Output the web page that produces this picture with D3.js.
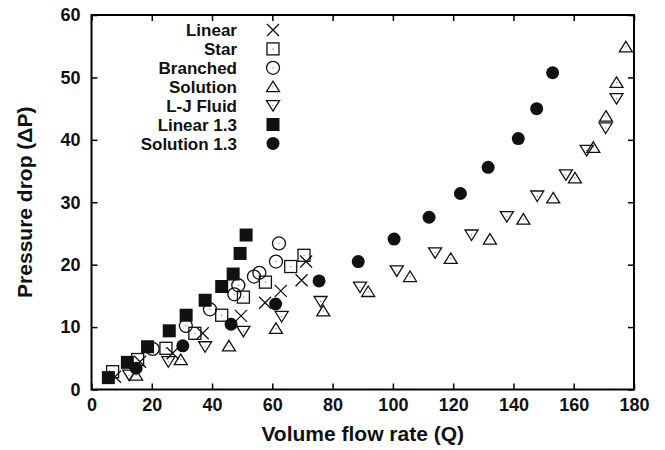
<!DOCTYPE html>
<html>
<head>
<meta charset="utf-8">
<script src="https://cdn.jsdelivr.net/npm/d3@7"></script>
<style>
body { margin: 0; background: #fff; }
text { font-family: "Liberation Sans", Arial, sans-serif; }
</style>
</head>
<body>
<div id="chart"></div>
<script>
// data: Q = volume flow rate, P = pressure drop
let linearQ = [7.8, 16.1, 26.9, 36.9, 49.6, 57.6, 62.8, 69.7, 71.2];
let linearP = [2.05, 4.45, 5.8, 9.0, 11.8, 13.9, 15.8, 17.5, 20.5];

let starQ = [7.0, 15.3, 24.7, 34.3, 43.2, 50.4, 57.7, 66.1, 70.5];
let starP = [2.85, 4.8, 6.6, 9.0, 11.9, 14.8, 17.2, 19.7, 21.5];

let branchedQ = [20.3, 31.3, 39.3, 47.4, 48.7, 53.9, 55.7, 61.2, 62.2];
let branchedP = [6.5, 10.2, 12.85, 15.25, 16.7, 18.1, 18.7, 20.5, 23.4];

let solutionQ = [14.8, 29.6, 45.6, 61.2, 76.9, 91.8, 105.7, 119.2, 132.2, 143.3, 153.2, 160.4, 166.5, 170.7, 174.2, 177.3];
let solutionP = [2.3, 4.8, 7.0, 9.8, 12.6, 15.7, 18.1, 21.0, 24.1, 27.3, 30.7, 33.9, 38.8, 43.8, 49.2, 54.9];

let ljQ = [12.5, 25.5, 37.7, 50.4, 63.1, 76.0, 89.1, 101.3, 114.0, 126.1, 137.8, 147.9, 157.4, 164.3, 170.6, 174.2];
let ljP = [2.3, 4.45, 6.85, 9.3, 11.7, 14.1, 16.4, 19.0, 21.9, 24.75, 27.7, 31.0, 34.4, 38.3, 41.9, 46.6];

let linear13Q = [5.6, 11.9, 18.6, 25.8, 31.4, 37.7, 43.2, 47.0, 49.3, 51.3];
let linear13P = [1.9, 4.35, 6.85, 9.4, 11.9, 14.3, 16.5, 18.5, 21.8, 24.75];

let solution13Q = [14.8, 30.3, 46.3, 61.1, 75.5, 88.5, 100.4, 112.0, 122.4, 131.6, 141.6, 147.7, 153.0];
let solution13P = [3.4, 7.0, 10.45, 13.7, 17.4, 20.5, 24.1, 27.6, 31.4, 35.6, 40.2, 45.0, 50.75];

let seriesNames = ["Linear", "Star", "Branched", "Solution", "L-J Fluid", "Linear 1.3", "Solution 1.3"];
let seriesShapes = ["cross", "square", "circle", "triUp", "triDown", "fillSquare", "fillCircle"];

let xTicks = [0, 20, 40, 60, 80, 100, 120, 140, 160, 180];
let yTicks = [0, 10, 20, 30, 40, 50, 60];

let series = [
    [linearQ, linearP], [starQ, starP], [branchedQ, branchedP], [solutionQ, solutionP],
    [ljQ, ljP], [linear13Q, linear13P], [solution13Q, solution13P]
];

let margin = { top: 15, right: 31, bottom: 60.5, left: 91.5 };
let width = 665 - margin.left - margin.right;
let height = 450 - margin.top - margin.bottom;

let svg = d3.select("#chart").append("svg")
    .attr("width", 665)
    .attr("height", 450);

let g = svg.append("g")
    .attr("transform", "translate(" + margin.left + "," + margin.top + ")");

let xScale = d3.scaleLinear().domain([0, 180]).range([0, width]);
let yScale = d3.scaleLinear().domain([0, 60]).range([height, 0]);

// axes, ticks pointing inward, mirrored on top and right
let xAxis = g.append("g").attr("transform", "translate(0," + height + ")")
    .call(d3.axisBottom(xScale).tickValues(xTicks).tickSizeInner(-6).tickSizeOuter(0).tickPadding(9));
let yAxis = g.append("g")
    .call(d3.axisLeft(yScale).tickValues(yTicks).tickSizeInner(-6).tickSizeOuter(0).tickPadding(11));
let xTop = g.append("g")
    .call(d3.axisTop(xScale).tickValues(xTicks).tickSizeInner(-6).tickSizeOuter(0).tickFormat(""));
let yRight = g.append("g").attr("transform", "translate(" + width + ",0)")
    .call(d3.axisRight(yScale).tickValues(yTicks).tickSizeInner(-6).tickSizeOuter(0).tickFormat(""));

[xAxis, yAxis, xTop, yRight].forEach(function (a) {
    a.select(".domain").remove();
    a.selectAll(".tick line").attr("stroke", "#000").attr("stroke-width", 1.5);
    a.selectAll(".tick text")
        .attr("fill", "#111")
        .style("font-size", "18px")
        .style("font-weight", "bold");
});

g.append("rect")
    .attr("width", width)
    .attr("height", height)
    .attr("fill", "none")
    .attr("stroke", "#000")
    .attr("stroke-width", 2);

// axis titles
svg.append("text")
    .attr("x", margin.left + width / 2)
    .attr("y", 441)
    .attr("text-anchor", "middle")
    .style("font-size", "21px")
    .style("font-weight", "bold")
    .attr("fill", "#111")
    .text("Volume flow rate (Q)");

svg.append("text")
    .attr("transform", "translate(32," + (margin.top + height / 2) + ")rotate(-90)")
    .attr("text-anchor", "middle")
    .style("font-size", "21px")
    .style("font-weight", "bold")
    .attr("fill", "#111")
    .text("Pressure drop (\u0394P)");

// draw one marker at (0,0) inside the given group
function drawMarker(sel, shape) {
    let s = 6;
    if (shape === "cross") {
        sel.append("path").attr("d", "M" + -s + "," + -s + "L" + s + "," + s + "M" + -s + "," + s + "L" + s + "," + -s)
            .attr("stroke", "#111").attr("stroke-width", 1.3).attr("fill", "none");
        return;
    }
    if (shape === "square") {
        sel.append("rect").attr("x", -s).attr("y", -s).attr("width", 2 * s).attr("height", 2 * s)
            .attr("fill", "none").attr("stroke", "#111").attr("stroke-width", 1.3);
    } else if (shape === "circle") {
        sel.append("circle").attr("r", 6.5)
            .attr("fill", "none").attr("stroke", "#111").attr("stroke-width", 1.3);
    } else if (shape === "triUp") {
        sel.append("path").attr("d", "M0,-5.5L6.5,5L-6.5,5Z")
            .attr("fill", "none").attr("stroke", "#111").attr("stroke-width", 1.3);
    } else if (shape === "triDown") {
        sel.append("path").attr("d", "M0,5.5L6.5,-5L-6.5,-5Z")
            .attr("fill", "none").attr("stroke", "#111").attr("stroke-width", 1.3);
    } else if (shape === "fillSquare") {
        sel.append("rect").attr("x", -6.5).attr("y", -6.5).attr("width", 13).attr("height", 13)
            .attr("fill", "#111");
        return;
    } else if (shape === "fillCircle") {
        sel.append("circle").attr("r", 6.5).attr("fill", "#111");
        return;
    }
    // gnuplot leaves a dot in the middle of open points
    sel.append("rect").attr("x", -0.5).attr("y", -0.5).attr("width", 1).attr("height", 1).attr("fill", "#555");
}

series.forEach(function (sr, i) {
    let pts = sr[0].map(function (q, j) { return [q, sr[1][j]]; });
    g.append("g").selectAll("g").data(pts).enter().append("g")
        .attr("transform", function (d) { return "translate(" + xScale(d[0]) + "," + yScale(d[1]) + ")"; })
        .each(function () { drawMarker(d3.select(this), seriesShapes[i]); });
});

// legend
let legend = svg.append("g").attr("transform", "translate(0,30)");
seriesNames.forEach(function (name, i) {
    let row = legend.append("g").attr("transform", "translate(0," + (i * 18.9) + ")");
    row.append("text")
        .attr("x", 237)
        .attr("dy", "0.36em")
        .attr("text-anchor", "end")
        .style("font-size", "17px")
        .style("font-weight", "bold")
        .attr("fill", "#111")
        .text(name);
    let m = row.append("g").attr("transform", "translate(273,0)");
    drawMarker(m, seriesShapes[i]);
});
</script>
</body>
</html>
